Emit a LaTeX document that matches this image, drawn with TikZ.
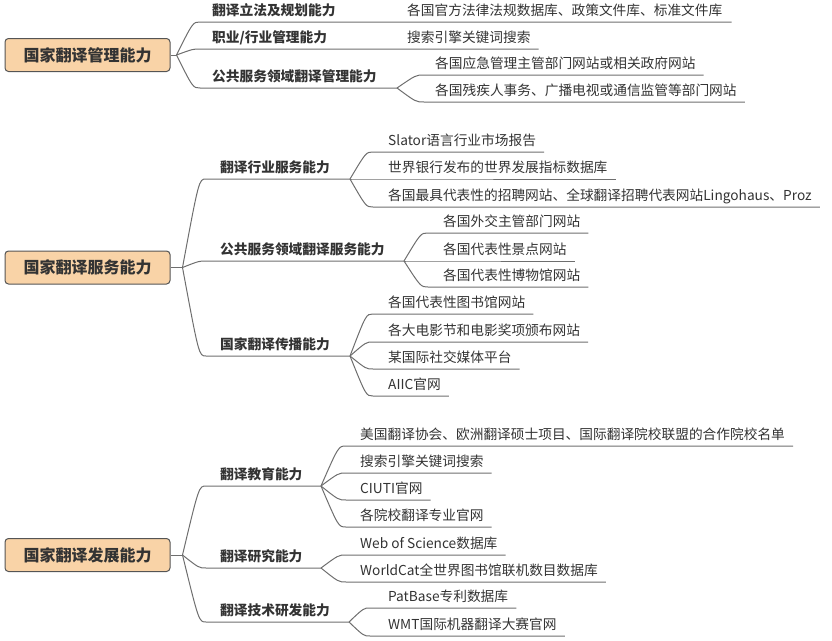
\documentclass[tikz,border=0pt]{standalone}
\usepackage{fontspec}
\setmainfont{Noto Sans CJK SC}
\usetikzlibrary{calc}
\definecolor{rootfill}{HTML}{F9D3A7}
\definecolor{rootline}{HTML}{555555}
\definecolor{linec}{HTML}{6E6E6E}
\definecolor{txt}{HTML}{333333}
\tikzset{
  rootbox/.style={draw=rootline, fill=rootfill, rounded corners=3.5pt, minimum width=165pt, minimum height=33pt, inner sep=0pt, font=\fontsize{16}{16}\selectfont\bfseries, text=txt, line width=1pt},
  branch/.style={anchor=south west, inner sep=0pt, text height=11pt, text depth=6pt, font=\fontsize{13.7}{14}\selectfont\bfseries, text=txt},
  leaf/.style={anchor=south west, inner sep=0pt, text height=11pt, text depth=6pt, font=\fontsize{13.7}{14}\selectfont, text=txt},
  conn/.style={draw=linec, line width=1pt},
  bcurve/.style={to path={let \p1=(\tikztostart), \p2=(\tikztotarget) in .. controls ({\x1+0.7*(\x2-\x1)},\y2) .. (\tikztotarget) \tikztonodes}},
}
\begin{document}
\begin{tikzpicture}[x=1pt,y=-1pt]
\useasboundingbox (0,0) rectangle (832,640);

% ---------------- Section 1 ----------------
\node[rootbox] (r1) at (87.5,55) {国家翻译管理能力};
\coordinate (r1o) at ([xshift=6pt]r1.east);
\node[branch] (b11) at (212,22) {翻译立法及规划能力};
\node[leaf] (l11) at (407,22) {各国官方法律法规数据库、政策文件库、标准文件库};
\node[branch] (b12) at (212,49) {职业/行业管理能力};
\node[leaf] (l12) at (407,49) {搜索引擎关键词搜索};
\node[branch] (b13) at (212,88) {公共服务领域翻译管理能力};
\coordinate (f13) at (397,88);
\node[leaf] (l131) at (435,75) {各国应急管理主管部门网站或相关政府网站};
\node[leaf] (l132) at (435,102) {各国残疾人事务、广播电视或通信监管等部门网站};

\draw[conn] (r1.east) -- (r1o);
\draw[conn] (r1o) to[bcurve] ([xshift=-12pt]b11.south west) -- ([xshift=9pt]l11.south east);
\draw[conn] (r1o) to[bcurve] ([xshift=-12pt]b12.south west) -- ([xshift=8pt]l12.south east);
\draw[conn] (r1o) to[bcurve] ([xshift=-12pt]b13.south west) -- (f13);
\draw[conn] (f13) to[bcurve] ([xshift=-11pt]l131.south west) -- ([xshift=8pt]l131.south east);
\draw[conn] (f13) to[bcurve] ([xshift=-11pt]l132.south west) -- ([xshift=8pt]l132.south east);

% ---------------- Section 2 ----------------
\node[rootbox] (r2) at (87.5,267.5) {国家翻译服务能力};
\coordinate (r2o) at ([xshift=12pt]r2.east);
\node[branch] (b21) at (220,179) {翻译行业服务能力};
\coordinate (f21) at (350,179);
\node[leaf] (l211) at (388,152) {Slator语言行业市场报告};
\node[leaf] (l212) at (388,179) {世界银行发布的世界发展指标数据库};
\node[leaf] (l213) at (388,207) {各国最具代表性的招聘网站、全球翻译招聘代表网站Lingohaus、Proz};
\node[branch] (b22) at (220,261) {公共服务领域翻译服务能力};
\coordinate (f22) at (404,261);
\node[leaf] (l221) at (443,233) {各国外交主管部门网站};
\node[leaf] (l222) at (443,261) {各国代表性景点网站};
\node[leaf] (l223) at (443,287) {各国代表性博物馆网站};
\node[branch] (b23) at (220,356) {国家翻译传播能力};
\coordinate (f23) at (350,356);
\node[leaf] (l231) at (388,314) {各国代表性图书馆网站};
\node[leaf] (l232) at (388,342) {各大电影节和电影奖项颁布网站};
\node[leaf] (l233) at (388,369) {某国际社交媒体平台};
\node[leaf] (l234) at (388,396) {AIIC官网};

\draw[conn] (r2.east) -- (r2o);
\draw[conn] (r2o) to[bcurve] ([xshift=-14pt]b21.south west) -- (f21);
\draw[conn] (r2o) to[bcurve] ([xshift=-14pt]b22.south west) -- (f22);
\draw[conn] (r2o) to[bcurve] ([xshift=-14pt]b23.south west) -- (f23);
\draw[conn] (f21) to[bcurve] ([xshift=-15pt]l211.south west) -- ([xshift=8pt]l211.south east);
\draw[conn] (f21) to[bcurve] ([xshift=-15pt]l212.south west) -- ([xshift=8pt]l212.south east);
\draw[conn] (f21) to[bcurve] ([xshift=-15pt]l213.south west) -- ([xshift=8pt]l213.south east);
\draw[conn] (f22) to[bcurve] ([xshift=-15pt]l221.south west) -- ([xshift=8pt]l221.south east);
\draw[conn] (f22) to[bcurve] ([xshift=-15pt]l222.south west) -- ([xshift=8pt]l222.south east);
\draw[conn] (f22) to[bcurve] ([xshift=-15pt]l223.south west) -- ([xshift=8pt]l223.south east);
\draw[conn] (f23) to[bcurve] ([xshift=-15pt]l231.south west) -- ([xshift=8pt]l231.south east);
\draw[conn] (f23) to[bcurve] ([xshift=-15pt]l232.south west) -- ([xshift=8pt]l232.south east);
\draw[conn] (f23) to[bcurve] ([xshift=-15pt]l233.south west) -- ([xshift=8pt]l233.south east);
\draw[conn] (f23) to[bcurve] ([xshift=-15pt]l234.south west) -- ([xshift=8pt]l234.south east);

% ---------------- Section 3 ----------------
\node[rootbox] (r3) at (87.5,555) {国家翻译发展能力};
\coordinate (r3o) at ([xshift=12pt]r3.east);
\node[branch] (b31) at (220,486) {翻译教育能力};
\coordinate (f31) at (321,486);
\node[leaf] (l311) at (360,446) {美国翻译协会、欧洲翻译硕士项目、国际翻译院校联盟的合作院校名单};
\node[leaf] (l312) at (360,473) {搜索引擎关键词搜索};
\node[leaf] (l313) at (360,500) {CIUTI官网};
\node[leaf] (l314) at (360,527) {各院校翻译专业官网};
\node[branch] (b32) at (220,568) {翻译研究能力};
\coordinate (f32) at (321,568);
\node[leaf] (l321) at (360,555) {Web of Science数据库};
\node[leaf] (l322) at (360,582) {WorldCat全世界图书馆联机数目数据库};
\node[branch] (b33) at (220,622) {翻译技术研发能力};
\coordinate (f33) at (349,622);
\node[leaf] (l331) at (388,608) {PatBase专利数据库};
\node[leaf] (l332) at (388,636) {WMT国际机器翻译大赛官网};

\draw[conn] (r3.east) -- (r3o);
\draw[conn] (r3o) to[bcurve] ([xshift=-14pt]b31.south west) -- (f31);
\draw[conn] (r3o) to[bcurve] ([xshift=-14pt]b32.south west) -- (f32);
\draw[conn] (r3o) to[bcurve] ([xshift=-14pt]b33.south west) -- (f33);
\draw[conn] (f31) to[bcurve] ([xshift=-14pt]l311.south west) -- ([xshift=8pt]l311.south east);
\draw[conn] (f31) to[bcurve] ([xshift=-14pt]l312.south west) -- ([xshift=8pt]l312.south east);
\draw[conn] (f31) to[bcurve] ([xshift=-14pt]l313.south west) -- ([xshift=8pt]l313.south east);
\draw[conn] (f31) to[bcurve] ([xshift=-14pt]l314.south west) -- ([xshift=8pt]l314.south east);
\draw[conn] (f32) to[bcurve] ([xshift=-14pt]l321.south west) -- ([xshift=8pt]l321.south east);
\draw[conn] (f32) to[bcurve] ([xshift=-14pt]l322.south west) -- ([xshift=8pt]l322.south east);
\draw[conn] (f33) to[bcurve] ([xshift=-18pt]l331.south west) -- ([xshift=8pt]l331.south east);
\draw[conn] (f33) to[bcurve] ([xshift=-18pt]l332.south west) -- ([xshift=8pt]l332.south east);
\end{tikzpicture}
\end{document}
